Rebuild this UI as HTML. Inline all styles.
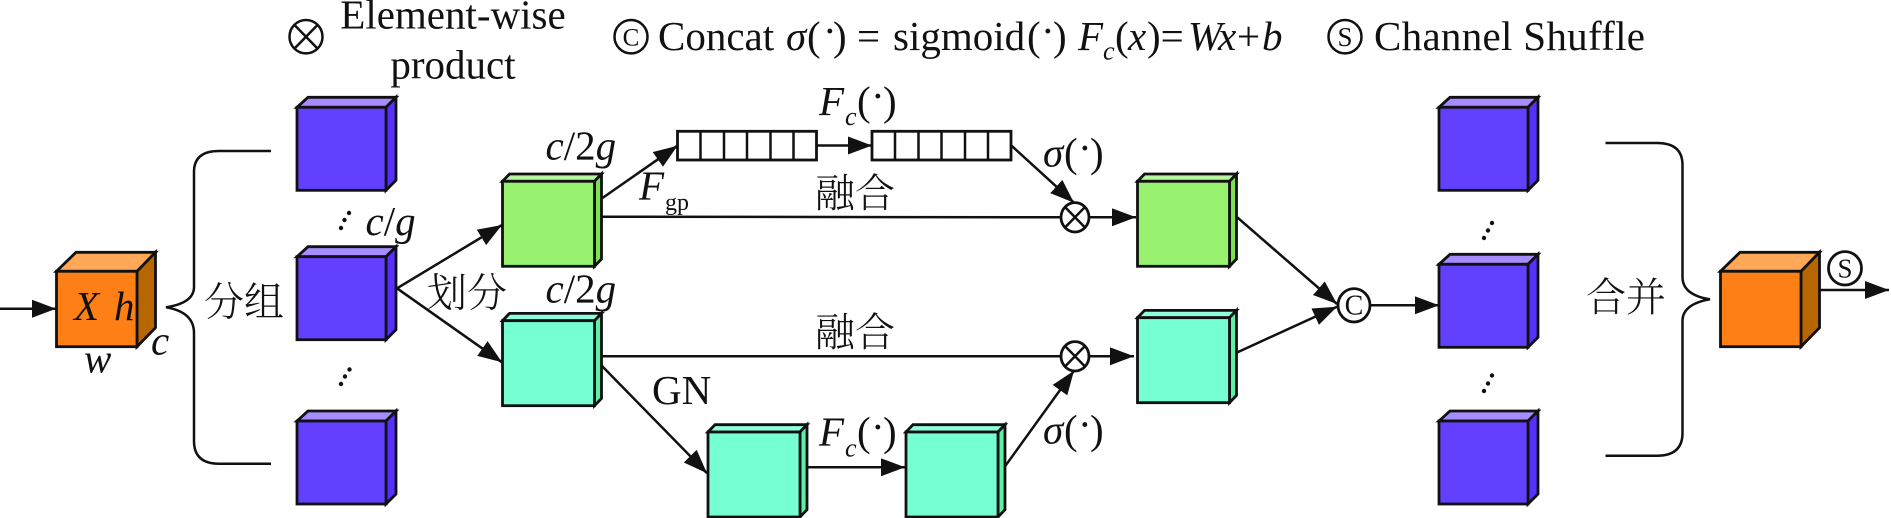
<!DOCTYPE html>
<html><head><meta charset="utf-8">
<style>
html,body{margin:0;padding:0;background:#fff;width:1891px;height:518px;overflow:hidden}
svg{display:block}
text{font-family:"Liberation Serif","Noto Serif CJK SC",serif;font-size:41px;fill:#111}
.i{font-style:italic}
.z{font-size:40px;font-family:"Liberation Serif","Noto Serif CJK SC",serif;font-weight:300}
.s{font-size:24px}
.l{fill:none;stroke:#111;stroke-width:2.5}
.o polygon,.o rect,.o ellipse{stroke:#111;stroke-width:2.8;stroke-linejoin:miter}
</style></head>
<body>
<svg xmlns="http://www.w3.org/2000/svg" width="1891" height="518" viewBox="0 0 1891 518">
<defs>
<marker id="a" markerUnits="userSpaceOnUse" markerWidth="26" markerHeight="20" refX="24" refY="9" orient="auto"><path d="M0 0L24 9L0 18Z" fill="#111"/></marker>
<g id="or" class="o"><polygon points="0,0 19.500,-19 99,-19 80.500,0" fill="#ffa857"/><polygon points="80.500,0 99,-19 99,56.400 80.500,75.400" fill="#b86600"/><rect x="0" y="0" width="80.500" height="75.400" fill="#ff7f17"/></g>
<g id="bl" class="o"><polygon points="0,0 11,-10 99,-10 89,0" fill="#a78cff"/><polygon points="89,0 99,-10 99,73 89,83" fill="#5530ff"/><rect x="0" y="0" width="89" height="83" fill="#6340ff"/></g>
<g id="gr" class="o"><polygon points="0,0 7,-7.300 99,-7.300 92,0" fill="#b8f5a0"/><polygon points="92,0 99,-7.300 99,77.700 92,85" fill="#80e050"/><rect x="0" y="0" width="92" height="85" fill="#98f06f"/></g>
<g id="cy" class="o"><polygon points="0,0 7,-7.300 99,-7.300 92,0" fill="#90ffdd"/><polygon points="92,0 99,-7.300 99,77.700 92,85" fill="#5df0a8"/><rect x="0" y="0" width="92" height="85" fill="#76ffd3"/></g>
<g id="bar" class="o"><rect x="0" y="0" width="139" height="28.700" fill="#fff"/><path class="l" d="M23 0V28.700M46.500 0V28.700M69.500 0V28.700M93 0V28.700M116 0V28.700"/></g>
</defs>

<!-- legend -->
<g class="l">
<ellipse cx="306" cy="36.700" rx="16.500" ry="16.700"/><path d="M295 25.500L317 48M317 25.500L295 48"/>
<ellipse cx="631" cy="36.700" rx="16.500" ry="16.700"/>
<ellipse cx="1345" cy="36.700" rx="16.500" ry="16.700"/>
</g>
<text x="453" y="28.500" text-anchor="middle">Element-wise</text>
<text x="453" y="78.300" text-anchor="middle">product</text>
<text x="631" y="45.500" text-anchor="middle" style="font-size:25px">C</text>
<text x="658" y="50">Concat</text>
<text x="786" y="50" class="i">σ</text><text x="807" y="50">(</text><text x="823" y="45">·</text><text x="833" y="50">)</text>
<text x="857" y="50">=</text><text x="893" y="50">sigmoid</text>
<text x="1027" y="50">(</text><text x="1041" y="45">·</text><text x="1053" y="50">)</text>
<text x="1078" y="50" class="i">F</text><text x="1103" y="59.300" class="i" style="font-size:26px">c</text>
<text x="1115" y="50">(</text><text x="1128" y="50" class="i">x</text><text x="1147" y="50">)=</text>
<text x="1188" y="50" class="i">W</text><text x="1218" y="50" class="i">x</text><text x="1237" y="50">+</text><text x="1262" y="50" class="i">b</text>
<text x="1345" y="46" text-anchor="middle" style="font-size:27px">S</text>
<text x="1374" y="50" textLength="271">Channel Shuffle</text>

<!-- connectors -->
<g class="l">
<path d="M0 308.700H56" marker-end="url(#a)"/>
<path d="M271 151H219Q194 151 194 172V287Q194 303 166 307.300Q194 312 194 333V441Q194 463.700 219 463.700H271"/>
<path d="M397 288.300L502 225" marker-end="url(#a)"/>
<path d="M397 288.300L502 362.300" marker-end="url(#a)"/>
<path d="M601 199L677.500 145.700" marker-end="url(#a)"/>
<path d="M817 145.500H872" marker-end="url(#a)"/>
<path d="M1011.500 145.700L1074 202.700" marker-end="url(#a)"/>
<path d="M601 216.700L1061 217.300"/>
<path d="M1089 217.300H1136" marker-end="url(#a)"/>
<path d="M601 356.300H1061"/>
<path d="M1089 356.300H1134" marker-end="url(#a)"/>
<path d="M601 365L707 473.300" marker-end="url(#a)"/>
<path d="M807 467.300H905" marker-end="url(#a)"/>
<path d="M1005.500 465.700L1074 370.700" marker-end="url(#a)"/>
<path d="M1236.500 216.700L1337 304" marker-end="url(#a)"/>
<path d="M1236.500 352.700L1337 306.700" marker-end="url(#a)"/>
<path d="M1370.500 305.300H1439" marker-end="url(#a)"/>
<path d="M1605.500 143H1657Q1682.500 143 1682.500 165V277Q1682.500 295 1710 299.300Q1682.500 304 1682.500 321V433Q1682.500 455.700 1657 455.700H1605.500"/>
<path d="M1820 290H1889" marker-end="url(#a)"/>
</g>

<!-- cubes -->
<use href="#or" x="56.500" y="271.300"/>
<use href="#bl" x="297" y="107.300"/>
<use href="#bl" x="297" y="256.700"/>
<use href="#bl" x="297" y="421"/>
<use href="#gr" x="502.500" y="181.300"/>
<use href="#cy" x="502.500" y="320.700"/>
<use href="#gr" x="1137.500" y="181.300"/>
<use href="#cy" x="1137.500" y="317.700"/>
<use href="#cy" x="708" y="432"/>
<use href="#cy" x="906" y="432"/>
<use href="#bl" x="1439" y="107.300"/>
<use href="#bl" x="1439" y="264.300"/>
<use href="#bl" x="1439" y="421"/>
<use href="#or" x="1720.500" y="271.300"/>
<use href="#bar" x="677.500" y="131.300"/>
<use href="#bar" x="872" y="131.300"/>

<!-- operators -->
<g class="o">
<ellipse cx="1075" cy="217.300" rx="14" ry="14.700" fill="#fff"/>
<ellipse cx="1075" cy="356.300" rx="14" ry="14.700" fill="#fff"/>
<ellipse cx="1354" cy="305.300" rx="16" ry="16.700" fill="#fff"/>
<ellipse cx="1845" cy="268.300" rx="16.500" ry="16.700" fill="#fff"/>
</g>
<path class="l" d="M1065 207L1085 227.500M1085 207L1065 227.500M1065 346L1085 366.500M1085 346L1065 366.500"/>
<text x="1354" y="314.500" text-anchor="middle" style="font-size:28px">C</text>
<text x="1845" y="277.500" text-anchor="middle" style="font-size:27px">S</text>

<!-- dots -->
<g fill="#111">
<circle cx="341" cy="228" r="2.200"/><circle cx="344.500" cy="220" r="2.200"/><circle cx="349" cy="213" r="2.200"/>
<circle cx="341" cy="384" r="2.200"/><circle cx="345" cy="376.500" r="2.200"/><circle cx="349.500" cy="369.500" r="2.200"/>
<circle cx="1484" cy="238" r="2.200"/><circle cx="1488" cy="230.500" r="2.200"/><circle cx="1492" cy="223" r="2.200"/>
<circle cx="1484" cy="391" r="2.200"/><circle cx="1488" cy="383.500" r="2.200"/><circle cx="1492" cy="375.500" r="2.200"/>
</g>

<!-- labels -->
<text x="74" y="320" class="i">X</text><text x="114" y="320" class="i">h</text>
<text x="84" y="372.700" class="i">w</text><text x="151" y="354.300" class="i">c</text>
<text x="204" y="315.500" class="z">分组</text>
<text x="365.500" y="235" class="i">c<tspan font-style="normal">/</tspan>g</text>
<text x="545.500" y="159.300" class="i">c<tspan font-style="normal">/2</tspan>g</text>
<text x="545.500" y="302.700" class="i">c<tspan font-style="normal">/2</tspan>g</text>
<text x="427" y="306.500" class="z">划分</text>

<text x="819" y="115" class="i">F</text><text x="845" y="125" class="i" style="font-size:26px">c</text>
<text x="857" y="115">(</text><text x="871" y="110">·</text><text x="883" y="115">)</text>

<text x="1043" y="166.700" class="i">σ</text><text x="1064" y="166.700">(</text><text x="1078" y="162">·</text><text x="1090" y="166.700">)</text>

<text x="639" y="199.300" class="i">F</text><text x="665" y="210" class="s">gp</text>
<text x="815" y="207" class="z">融合</text>
<text x="815" y="346" class="z">融合</text>
<text x="652" y="404">GN</text>

<text x="819" y="445.700" class="i">F</text><text x="845" y="456.700" class="i" style="font-size:26px">c</text>
<text x="857" y="445.700">(</text><text x="871" y="441">·</text><text x="883" y="445.700">)</text>

<text x="1043" y="443.300" class="i">σ</text><text x="1064" y="443.300">(</text><text x="1078" y="438.500">·</text><text x="1090" y="443.300">)</text>

<text x="1586" y="311" class="z">合并</text>
</svg>
</body></html>
